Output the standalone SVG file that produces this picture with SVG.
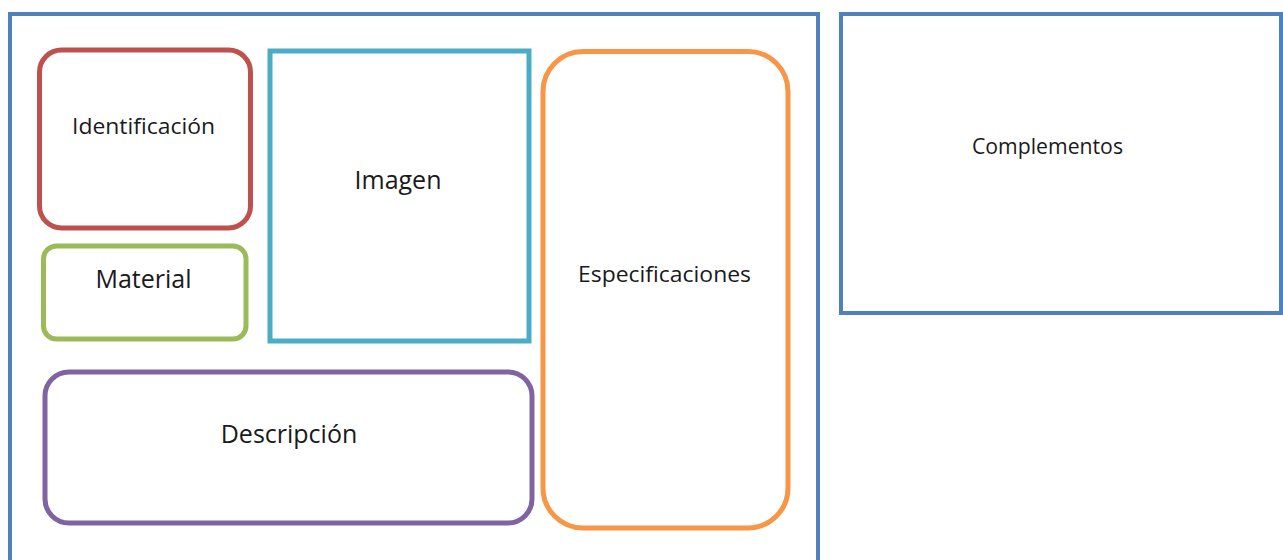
<svg xmlns="http://www.w3.org/2000/svg" width="1283" height="560" viewBox="0 0 1283 560">
<style>
.lbl{font-family:"Open Sans","Liberation Sans",sans-serif;fill:#1a1a1a;text-anchor:middle;dominant-baseline:central}
.big{font-size:25px}
.small{font-size:22px}
rect{fill:#fff}
</style>
<rect x="0" y="0" width="1283" height="560" fill="#fff"/>
<g id="contenedor"><rect x="10" y="14" width="808" height="560" stroke="#4F81BD" stroke-width="4"/></g>
<g id="complementos"><rect x="841" y="14" width="440" height="299" stroke="#4F81BD" stroke-width="4"/><text class="lbl" x="1047.5" y="145" font-size="22.5" textLength="151" lengthAdjust="spacingAndGlyphs">Complementos</text></g>
<g id="identificacion"><rect x="39.5" y="50" width="211" height="178" rx="22" stroke="#C0504D" stroke-width="5"/><text class="lbl small" x="143.5" y="125" textLength="143" lengthAdjust="spacingAndGlyphs">Identificación</text></g>
<g id="material"><rect x="43.5" y="246" width="202.5" height="93" rx="13" stroke="#9BBB59" stroke-width="5"/><text class="lbl big" x="143.5" y="278">Material</text></g>
<g id="imagen"><rect x="270" y="51" width="259" height="290" stroke="#4BACC6" stroke-width="5"/><text class="lbl big" x="398" y="179">Imagen</text></g>
<g id="especificaciones"><rect x="543" y="51.5" width="245" height="476.5" rx="40" stroke="#F79646" stroke-width="5"/><text class="lbl small" x="664.5" y="273" textLength="173" lengthAdjust="spacingAndGlyphs">Especificaciones</text></g>
<g id="descripcion"><rect x="45" y="372" width="487" height="151" rx="24" stroke="#8064A2" stroke-width="5"/><text class="lbl big" x="289" y="433">Descripción</text></g>
<g id="connectors"></g>
</svg>
